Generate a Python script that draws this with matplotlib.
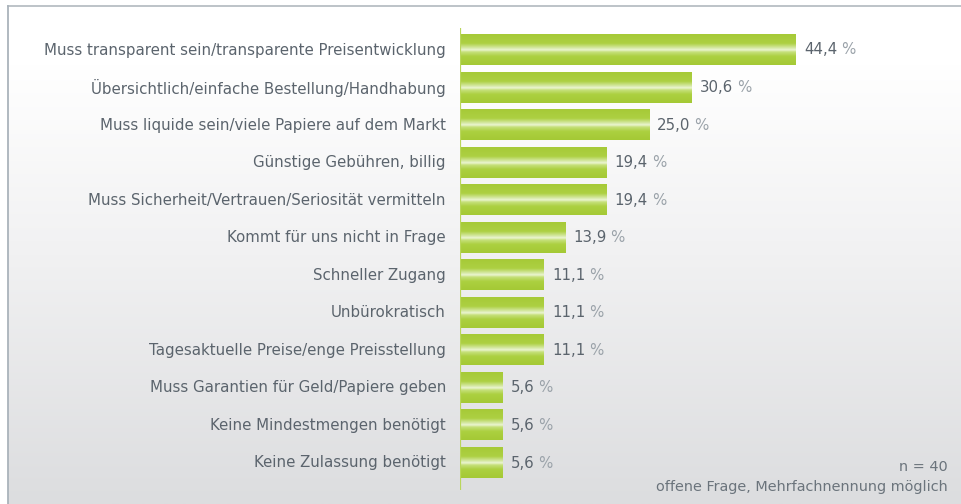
import numpy as np
import matplotlib
matplotlib.use("Agg")
import matplotlib.pyplot as plt
from matplotlib.colors import LinearSegmentedColormap

categories = [
    "Muss transparent sein/transparente Preisentwicklung",
    "Übersichtlich/einfache Bestellung/Handhabung",
    "Muss liquide sein/viele Papiere auf dem Markt",
    "Günstige Gebühren, billig",
    "Muss Sicherheit/Vertrauen/Seriosität vermitteln",
    "Kommt für uns nicht in Frage",
    "Schneller Zugang",
    "Unbürokratisch",
    "Tagesaktuelle Preise/enge Preisstellung",
    "Muss Garantien für Geld/Papiere geben",
    "Keine Mindestmengen benötigt",
    "Keine Zulassung benötigt",
]
values = [44.4, 30.6, 25.0, 19.4, 19.4, 13.9, 11.1, 11.1, 11.1, 5.6, 5.6, 5.6]
note_n = "n = 40"
note_q = "offene Frage, Mehrfachnennung möglich"

W, H = 962, 504
plt.rcParams['font.family'] = ['DejaVu Sans']
txt_col = '#5b646d'
pct_col = '#9aa2a9'

fig = plt.figure(figsize=(W / 100, H / 100), dpi=100)
fig.patch.set_facecolor('white')

# background panel with vertical gradient and a thin frame
bg = fig.add_axes([0, 0, 1, 1])
bg.set_xlim(0, W)
bg.set_ylim(H, 0)
bg.axis('off')
bg_cmap = LinearSegmentedColormap.from_list(
    'bg', [(0, '#ffffff'), (0.12, '#ffffff'), (0.5, '#f1f1f2'), (1, '#dcdddf')])
grad = np.linspace(0, 1, 256).reshape(-1, 1)
bg.imshow(grad, cmap=bg_cmap, extent=[8, W, H, 6], aspect='auto', zorder=0)
bg.plot([8, W], [6, 6], color='#b7bec4', lw=1.3, zorder=1)
bg.plot([8, 8], [6, H], color='#aab3bb', lw=1.3, zorder=1)

# main axes: pixel geometry
x0, x1 = 460, 960
y_top, y_bot = 28, 490
ax = fig.add_axes([x0 / W, (H - y_bot) / H, (x1 - x0) / W, (y_bot - y_top) / H])
ax.patch.set_alpha(0)
px_per_pct = 336 / 44.4
step = (463 - 50) / 11
for s in ax.spines.values():
    s.set_visible(False)
ax.set_xticks([])
ax.set_yticks([])
ax.axvline(0, color='#b9d65c', lw=1.6, zorder=3)

bar_cmap = LinearSegmentedColormap.from_list(
    'bar', [(0, '#a6ca37'), (0.3, '#add043'), (0.45, '#d6e9a6'), (0.51, '#ecf5d2'),
            (0.58, '#c6e07a'), (0.72, '#acd040'), (1, '#a4c935')])
bh = 0.8
y = np.arange(len(values))
for yi, v in zip(y, values):
    ax.imshow(grad, cmap=bar_cmap, extent=[0, v, yi + bh / 2, yi - bh / 2],
              aspect='auto', zorder=2, interpolation='bilinear')

ax.set_xlim(0, (x1 - x0) / px_per_pct)
ax.set_ylim(11 + (y_bot - 463) / step, -(50 - y_top) / step)

fs = 10.8
for yi, lab in zip(y, categories):
    ax.annotate(lab, xy=(0, yi), xytext=(-14, 0), textcoords='offset pixels',
                ha='right', va='center', fontsize=fs, color=txt_col)

fig.canvas.draw()
rend = fig.canvas.get_renderer()
for yi, v in zip(y, values):
    t = ax.annotate(f"{v:.1f}".replace('.', ','), xy=(v, yi), xytext=(8, 0),
                    textcoords='offset pixels', ha='left', va='center',
                    fontsize=fs, color=txt_col)
    bb = t.get_window_extent(rend)
    fig.text((bb.x1 + 4) / W, bb.y0 / H, "%", ha='left', va='bottom',
             fontsize=fs, color=pct_col)

fig.text(948 / W, (H - 467) / H, note_n, ha='right', va='center', fontsize=10.4, color='#6b747c')
fig.text(948 / W, (H - 487) / H, note_q, ha='right', va='center', fontsize=10.4, color='#6b747c')

fig.savefig('out.png', dpi=100)
